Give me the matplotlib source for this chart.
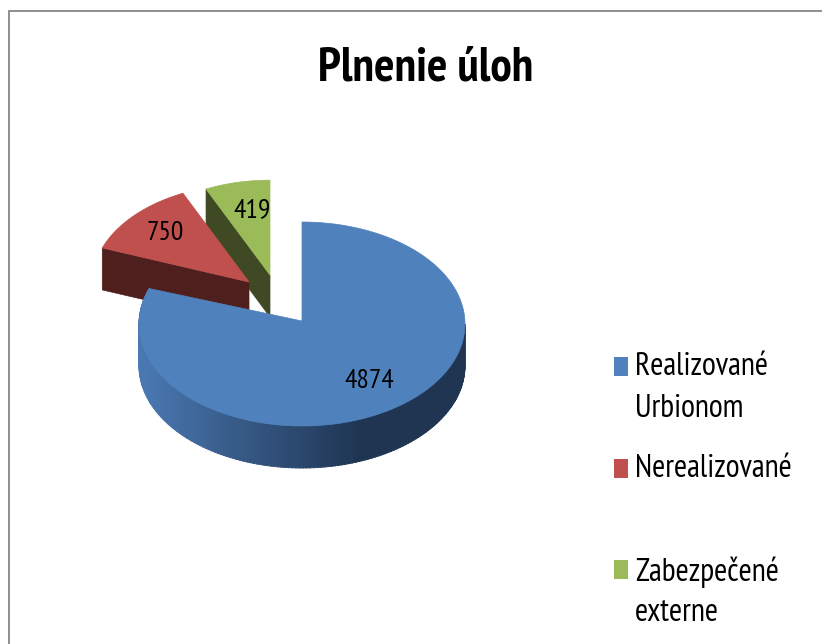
import numpy as np
import matplotlib
matplotlib.use("Agg")
import matplotlib.pyplot as plt
from matplotlib.patches import Polygon, Rectangle
from matplotlib.colors import to_rgb

title = "Plnenie úloh"
values = [4874, 750, 419]
legend_lines = [["Realizované", "Urbionom"], ["Nerealizované"], ["Zabezpečené", "externe"]]

colors = ["#4F81BD", "#C0504D", "#9BBB59"]
side_colors = ["#1F3552", "#4F1F1E", "#3F4A24"]

font = ["PT Sans Narrow", "Archivo Narrow", "Lato", "DejaVu Sans"]
cx, cy = 302, 324
rx, ry = 163, 102
depth = 42

fig = plt.figure(figsize=(8.22, 6.44), dpi=100)
ax = fig.add_axes([0, 0, 1, 1])
ax.set_xlim(0, 822)
ax.set_ylim(644, 0)
ax.axis("off")

# border of the chart area, right and bottom fall outside the picture
ax.plot([9, 9, 822], [644, 11, 11], color="#868686", lw=1.3, solid_joinstyle="miter")


def rim(center, scale, a0, a1):
    # angles clockwise from 12 o'clock, in degrees
    t = np.radians(np.linspace(a0, a1, 120))
    return np.column_stack([center[0] + scale * rx * np.sin(t), center[1] - scale * ry * np.cos(t)])


def exploded_slice(center, scale, a0, a1, color, side, z):
    pts = rim(center, scale, a0, a1)
    # cut face on the first edge of the slice
    corner = pts[0]
    face = [center, corner, corner + [0, depth], np.array(center) + [0, depth]]
    ax.add_patch(Polygon(face, closed=True, fc=side, ec=side, lw=0.5, zorder=z))
    top = np.vstack([[center], pts])
    ax.add_patch(Polygon(top, closed=True, fc=color, ec=color, lw=0.5, zorder=z + 0.5))


angles = np.cumsum([0] + values) / sum(values) * 360

# green and red slices are pulled out, drawn first so the big one covers them
exploded_slice((270, 275), 0.93, angles[2], angles[3], colors[2], side_colors[2], 2)
exploded_slice((249, 282), 0.96, angles[1], angles[2], colors[1], side_colors[1], 3)

# wall of the blue slice: dark on the right, lighter to the left
wall_t = np.linspace(90, angles[1], 160)
dark = np.array(to_rgb("#1F3552"))
light = np.array(to_rgb("#4A79B3"))
for a0, a1 in zip(wall_t[:-1], wall_t[1:]):
    x_mid = cx + rx * np.sin(np.radians((a0 + a1) / 2))
    f = np.clip((360 - x_mid) / (360 - 139), 0, 1)
    col = dark + (light - dark) * f
    p = rim((cx, cy), 1, a0, a1 + 0.3)
    wall = np.vstack([p, (p + [0, depth])[::-1]])
    ax.add_patch(Polygon(wall, closed=True, fc=col, ec=col, lw=0.6, zorder=5))

top = np.vstack([[(cx, 321)], rim((cx, cy), 1, angles[0], angles[1])])
ax.add_patch(Polygon(top, closed=True, fc=colors[0], ec=colors[0], lw=0.5, zorder=6))

ax.text(426, 68, title, family=font, fontsize=34.5, fontweight="bold", ha="center", va="center", color="black", zorder=10)

# data labels
ax.text(369, 381, str(values[0]), family=font, fontsize=20, ha="center", va="center", color="black", zorder=10)
ax.text(165, 233, str(values[1]), family=font, fontsize=20, ha="center", va="center", color="black", zorder=10)
ax.text(252, 210, str(values[2]), family=font, fontsize=20, ha="center", va="center", color="black", zorder=10)

# legend
box_y = [357, 459, 560]
line_y = [[367, 409], [469], [572, 613]]
for col, by, lines, ys in zip(colors, box_y, legend_lines, line_y):
    ax.add_patch(Rectangle((614, by), 14, 18.5, fc=col, ec="none", zorder=10))
    for line, y in zip(lines, ys):
        ax.text(635, y, line, family=font, fontsize=23, ha="left", va="center", color="black", zorder=10)

fig.savefig("out.png", dpi=100)
